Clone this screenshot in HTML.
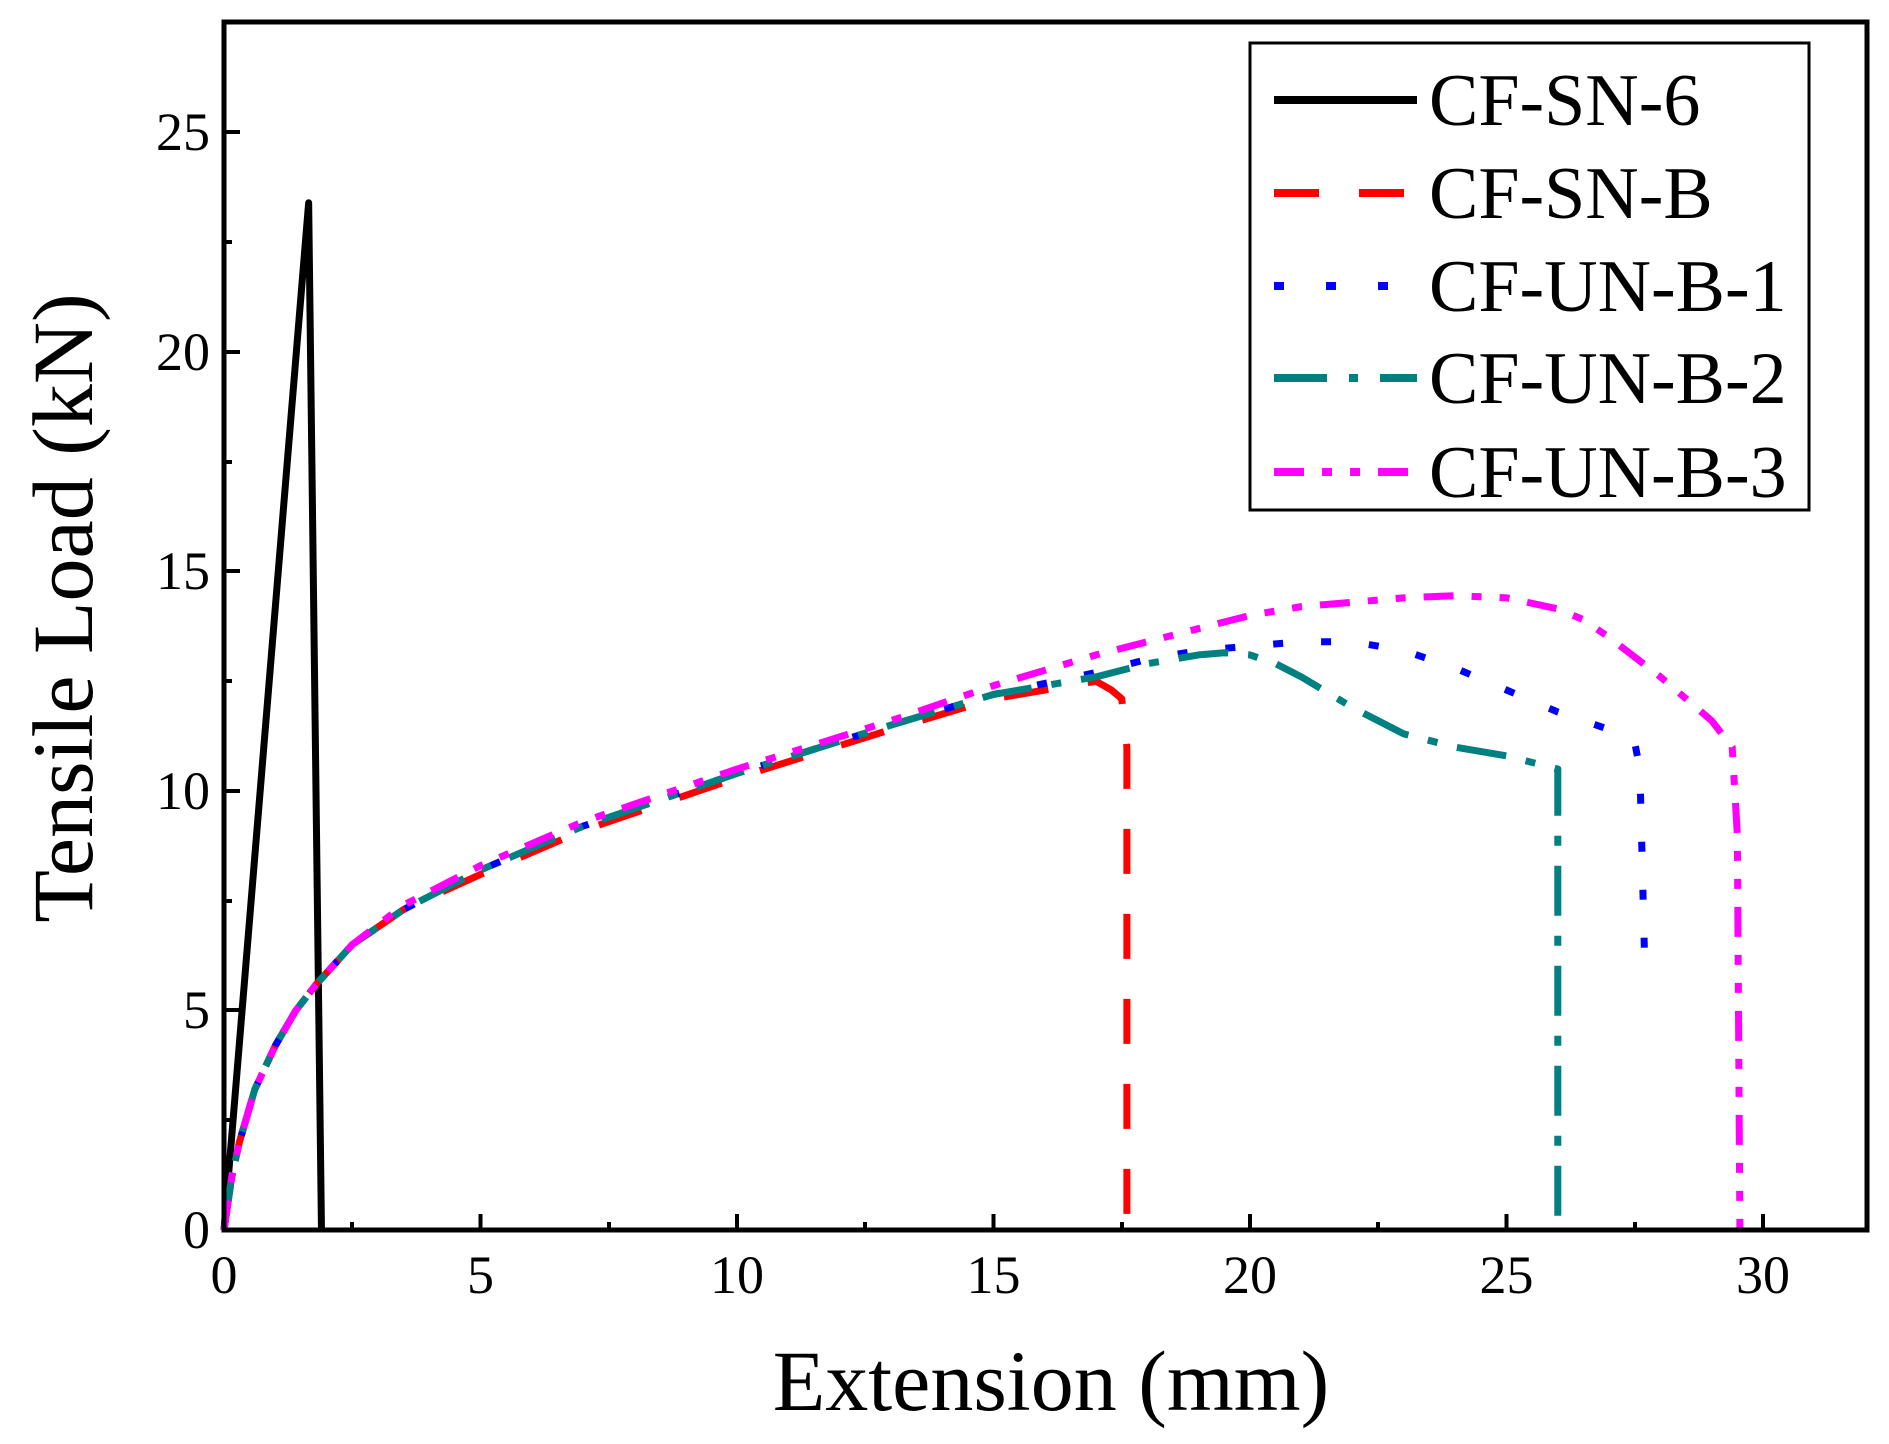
<!DOCTYPE html>
<html><head><meta charset="utf-8"><style>
html,body{margin:0;padding:0;background:#fff;}
svg{display:block;}
text{font-family:"Liberation Serif",serif;fill:#000;}
</style></head><body>
<svg width="1889" height="1444" viewBox="0 0 1889 1444" xmlns="http://www.w3.org/2000/svg">
<rect width="1889" height="1444" fill="#fff"/>
<g transform="translate(224,1230) scale(51.3,-43.9)" fill="none" stroke-linejoin="round">
<polyline vector-effect="non-scaling-stroke" stroke="#000" stroke-width="7" points="0,0 1.65,23.4 1.9,0"/>
<polyline vector-effect="non-scaling-stroke" stroke="#ff0000" stroke-width="7" stroke-dasharray="45,40" points="0,0 0.15,1.2 0.3,2 0.6,3.2 1,4.2 1.4,5 1.8,5.6 2.5,6.5 3.5,7.3 5,8.1 7,9.1 10,10.3 13,11.4 15,12.1 16,12.3 16.5,12.4 17,12.5 17.3,12.3 17.5,12.1 17.6,11 17.6,0"/>
<polyline vector-effect="non-scaling-stroke" stroke="#0000ff" stroke-width="7" stroke-dasharray="10,38" points="0,0 0.15,1.2 0.3,2 0.6,3.2 1,4.2 1.4,5 1.8,5.6 2.5,6.5 3.5,7.3 5,8.2 7,9.2 10,10.4 13,11.5 15,12.2 17,12.7 18,13 19,13.2 20,13.3 21,13.4 22,13.4 23,13.2 24,12.8 25,12.3 26,11.8 27,11.4 27.5,11.1 27.6,10.5 27.7,5.8"/>
<polyline vector-effect="non-scaling-stroke" stroke="#008080" stroke-width="7" stroke-dasharray="50,20,10,20" points="0,0 0.15,1.2 0.3,2 0.6,3.2 1,4.2 1.4,5 1.8,5.6 2.5,6.5 3.5,7.3 5,8.2 7,9.2 10,10.4 13,11.5 15,12.2 17,12.6 18,12.9 19,13.1 19.5,13.15 20,13.1 20.5,12.9 21,12.6 22,11.9 23,11.3 24,11 25,10.8 26,10.5 26,0"/>
<polyline vector-effect="non-scaling-stroke" stroke="#ff00ff" stroke-width="7" stroke-dasharray="30,18,10,18,10,18" points="0,0 0.15,1.2 0.3,2 0.6,3.2 1,4.2 1.4,5 1.8,5.6 2.5,6.5 3.5,7.4 5,8.3 7,9.3 10,10.5 13,11.6 15,12.4 17,13.1 19,13.7 20,14 21,14.2 22,14.3 23,14.4 24,14.45 25,14.4 26,14.15 26.5,13.9 27,13.5 28,12.6 29,11.6 29.4,11 29.5,9 29.55,0"/>
</g>
<rect x="224" y="22" width="1643" height="1208" fill="none" stroke="#000" stroke-width="5"/>
<g stroke="#000" stroke-width="4">
<line x1="480.5" y1="1230" x2="480.5" y2="1214"/><line x1="737" y1="1230" x2="737" y2="1214"/><line x1="993.5" y1="1230" x2="993.5" y2="1214"/><line x1="1250" y1="1230" x2="1250" y2="1214"/><line x1="1506.5" y1="1230" x2="1506.5" y2="1214"/><line x1="1763" y1="1230" x2="1763" y2="1214"/>
<line x1="352" y1="1230" x2="352" y2="1222"/><line x1="609" y1="1230" x2="609" y2="1222"/><line x1="865" y1="1230" x2="865" y2="1222"/><line x1="1122" y1="1230" x2="1122" y2="1222"/><line x1="1378" y1="1230" x2="1378" y2="1222"/><line x1="1635" y1="1230" x2="1635" y2="1222"/>
<line x1="224" y1="1010" x2="240" y2="1010"/><line x1="224" y1="791" x2="240" y2="791"/><line x1="224" y1="571" x2="240" y2="571"/><line x1="224" y1="352" x2="240" y2="352"/><line x1="224" y1="132" x2="240" y2="132"/>
<line x1="224" y1="1120" x2="232" y2="1120"/><line x1="224" y1="901" x2="232" y2="901"/><line x1="224" y1="681" x2="232" y2="681"/><line x1="224" y1="462" x2="232" y2="462"/><line x1="224" y1="242" x2="232" y2="242"/>
</g>
<g font-size="54" text-anchor="middle">
<text x="224" y="1293">0</text><text x="480.5" y="1293">5</text><text x="737" y="1293">10</text><text x="993.5" y="1293">15</text><text x="1250" y="1293">20</text><text x="1506.5" y="1293">25</text><text x="1763" y="1293">30</text>
</g>
<g font-size="54" text-anchor="end">
<text x="210" y="1248">0</text><text x="210" y="1028">5</text><text x="210" y="809">10</text><text x="210" y="589">15</text><text x="210" y="370">20</text><text x="210" y="150">25</text>
</g>
<text x="1051" y="1410" font-size="86" text-anchor="middle">Extension (mm)</text>
<text transform="translate(92,608) rotate(-90)" font-size="86" text-anchor="middle">Tensile Load (kN)</text>
<rect x="1250" y="43" width="559" height="467" fill="#fff" stroke="#000" stroke-width="3"/>
<g fill="none" stroke-width="8">
<line x1="1274" y1="100" x2="1417" y2="100" stroke="#000"/>
<line x1="1274" y1="193" x2="1417" y2="193" stroke="#ff0000" stroke-dasharray="45,40"/>
<line x1="1274" y1="286" x2="1417" y2="286" stroke="#0000ff" stroke-dasharray="10,42"/>
<line x1="1274" y1="378" x2="1417" y2="378" stroke="#008080" stroke-dasharray="53,22,9,22"/>
<line x1="1274" y1="472" x2="1417" y2="472" stroke="#ff00ff" stroke-dasharray="30,18,10,18,10,18"/>
</g>
<g font-size="74">
<text x="1429" y="125">CF-SN-6</text>
<text x="1429" y="218">CF-SN-B</text>
<text x="1429" y="311">CF-UN-B-1</text>
<text x="1429" y="403">CF-UN-B-2</text>
<text x="1429" y="497">CF-UN-B-3</text>
</g>
</svg>
</body></html>
